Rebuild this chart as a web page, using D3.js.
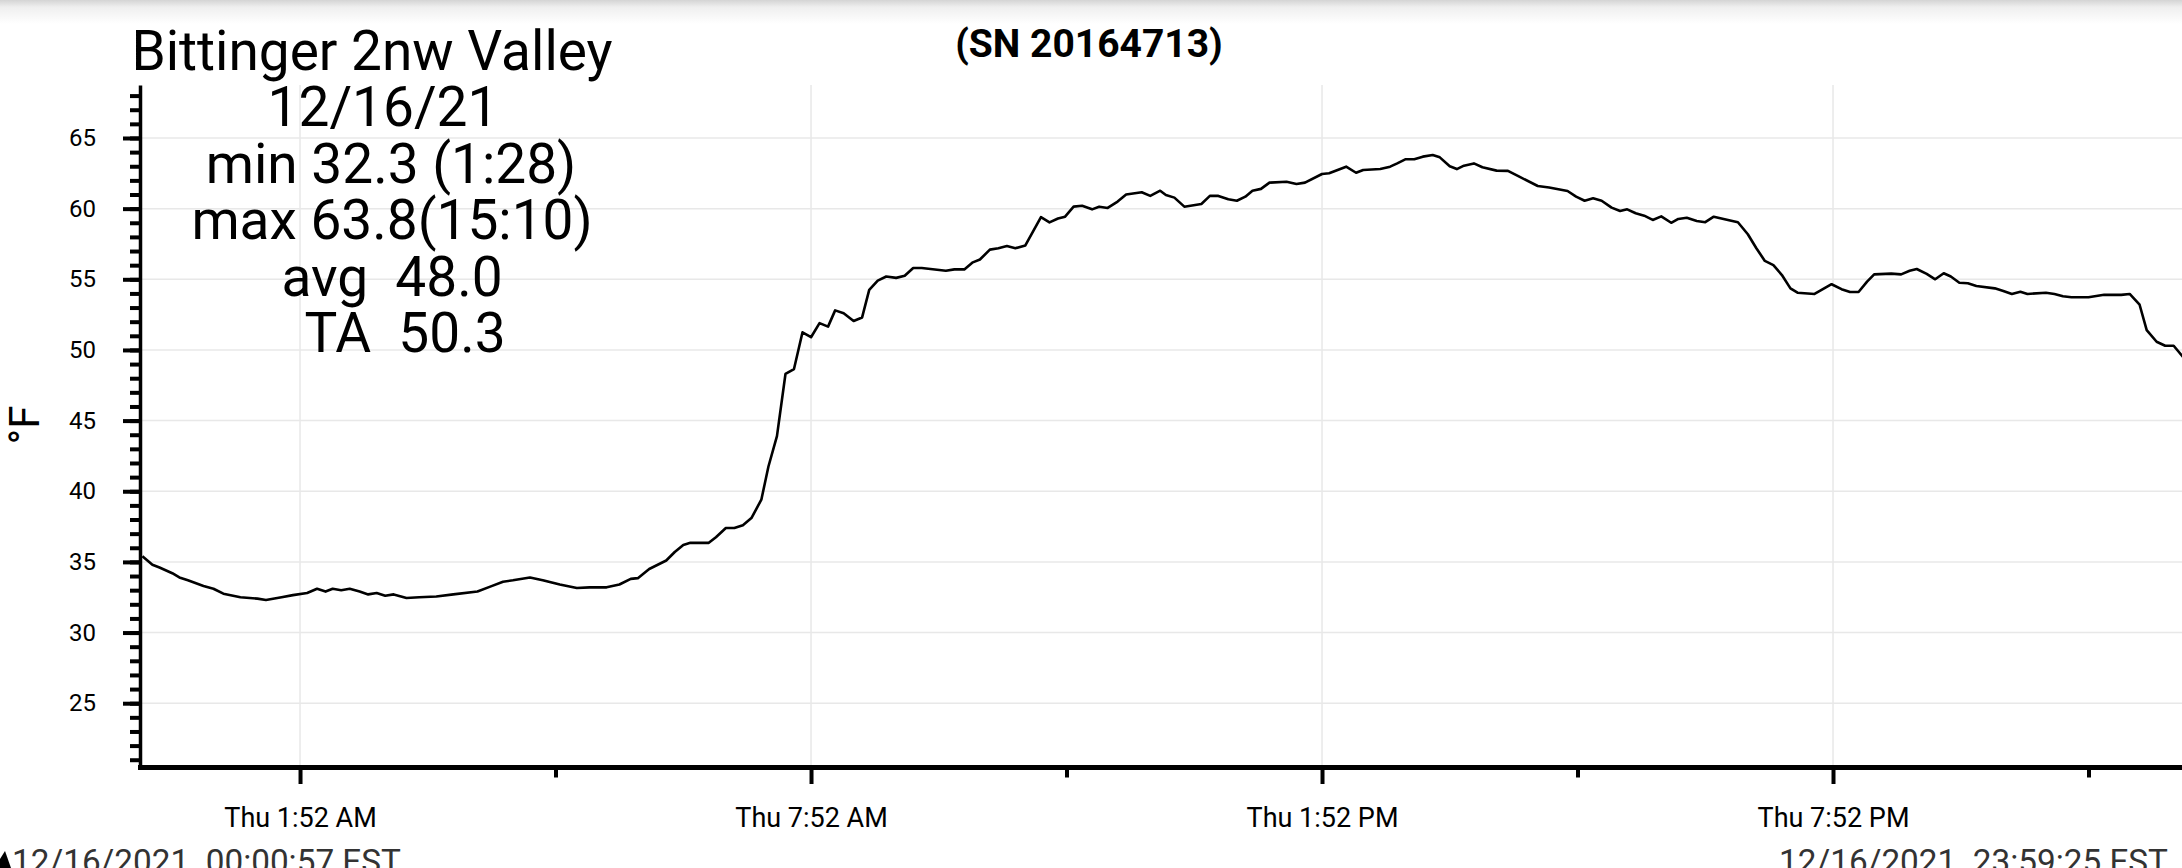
<!DOCTYPE html>
<html>
<head>
<meta charset="utf-8">
<script src="https://cdn.jsdelivr.net/npm/d3@7"></script>
<style>
  html, body { margin: 0; padding: 0; background: #fff; overflow: hidden; }
  svg { display: block; font-family: Roboto, "Noto Sans", sans-serif; }
</style>
</head>
<body>
<div id="chart"></div>
<script>
// chart size
var w = 2182;
var h = 868;

// minutes after midnight, 12/16/2021 (EST)
var minutes = [0.95, 8, 13, 22, 27, 33, 44, 51, 58, 70, 82, 88, 99, 107, 117, 124, 130, 135, 141, 147,
  154, 160, 166, 172, 178, 187, 196, 208, 220, 237, 246, 255, 262, 274, 283, 295, 307, 316, 328, 337,
  345, 350, 358, 370, 376, 382, 387, 400, 405, 412, 418, 424, 430, 437, 442, 448, 454, 460, 466, 472,
  478, 484, 489, 495, 502, 508, 513, 519, 525, 532, 538, 544, 550, 567, 573, 580, 586, 591, 598, 604,
  610, 616, 623, 634, 640, 646, 651, 657, 663, 670, 675, 681, 688, 694, 705, 711, 718, 722, 728, 735,
  747, 753, 759, 766, 772, 778, 783, 789, 795, 807, 814, 820, 832, 837, 849, 856, 861, 873, 880, 885,
  891, 897, 903, 910, 915, 922, 927, 932, 939, 945, 955, 963, 971, 984, 992, 1005, 1011, 1017, 1023, 1029,
  1036, 1042, 1047, 1053, 1059, 1065, 1071, 1078, 1083, 1089, 1096, 1102, 1108, 1118, 1125, 1132, 1138, 1144, 1150, 1156,
  1162, 1167, 1179, 1191, 1198, 1204, 1210, 1216, 1221, 1233, 1240, 1246, 1251, 1258, 1264, 1270, 1275, 1281, 1287, 1293,
  1306, 1312, 1318, 1324, 1329, 1342, 1348, 1354, 1360, 1372, 1383, 1395, 1401, 1408, 1413, 1420, 1426, 1432, 1439.42];

// temperature, °F
var temps = [35.4, 34.8, 34.6, 34.2, 33.9, 33.7, 33.3, 33.1, 32.75, 32.5, 32.4, 32.3, 32.5, 32.65, 32.8, 33.1, 32.9, 33.1, 33.0, 33.1,
  32.9, 32.7, 32.8, 32.6, 32.7, 32.45, 32.5, 32.55, 32.7, 32.9, 33.25, 33.6, 33.7, 33.9, 33.7, 33.4, 33.15, 33.2, 33.2, 33.4,
  33.8, 33.85, 34.5, 35.1, 35.7, 36.2, 36.35, 36.35, 36.75, 37.4, 37.4, 37.6, 38.1, 39.4, 41.75, 43.9, 48.3, 48.65, 51.25, 50.9,
  51.9, 51.65, 52.8, 52.6, 52.05, 52.3, 54.25, 54.9, 55.2, 55.1, 55.25, 55.8, 55.8, 55.6, 55.7, 55.7, 56.2, 56.4, 57.1, 57.2,
  57.35, 57.2, 57.4, 59.4, 59.03, 59.3, 59.43, 60.14, 60.2, 59.95, 60.14, 60.05, 60.5, 61.0, 61.16, 60.9, 61.27, 60.97, 60.78, 60.14,
  60.33, 60.9, 60.9, 60.66, 60.56, 60.85, 61.27, 61.4, 61.84, 61.9, 61.75, 61.84, 62.45, 62.5, 62.97, 62.54, 62.74, 62.8, 62.97, 63.2,
  63.5, 63.5, 63.68, 63.8, 63.63, 63.0, 62.8, 63.04, 63.2, 62.93, 62.69, 62.67, 62.26, 61.6, 61.5, 61.25, 60.85, 60.56, 60.73, 60.56,
  60.07, 59.83, 59.95, 59.67, 59.5, 59.2, 59.45, 59.0, 59.27, 59.36, 59.13, 59.04, 59.43, 59.2, 59.04, 58.19, 57.2, 56.3, 56.0, 55.3,
  54.36, 54.05, 53.96, 54.65, 54.3, 54.1, 54.1, 54.83, 55.35, 55.4, 55.35, 55.6, 55.73, 55.38, 55.0, 55.43, 55.2, 54.76, 54.72, 54.53,
  54.36, 54.17, 53.96, 54.12, 53.96, 54.05, 53.96, 53.8, 53.73, 53.73, 53.9, 53.9, 53.96, 53.2, 51.4, 50.58, 50.3, 50.3, 49.4];

// axis ticks
var majorTimes = ["01:52", "07:52", "13:52", "19:52"];
var minorTimes = ["04:52", "10:52", "16:52", "22:52"];
var majorTemps = [25, 30, 35, 40, 45, 50, 55, 60, 65];
var minorTemps = d3.range(21, 69); // every degree

// text
var infoLines = ["Bittinger 2nw Valley", "12/16/21", "min 32.3 (1:28)", "max 63.8(15:10)", "avg  48.0", "TA  50.3"];
var serial = "(SN 20164713)";
var startLabel = "12/16/2021  00:00:57 EST";
var endLabel = "12/16/2021  23:59:25 EST";
var yLabel = "°F";

var day = Date.UTC(2021, 11, 16);
function atMinute(m) { return new Date(day + m * 60000); }
function atClock(s) {
    var p = s.split(":");
    return atMinute(+p[0] * 60 + +p[1]);
}

var data = minutes.map(function(m, i) {
    return {t: atMinute(m), v: temps[i]};
});

var xScale = d3.scaleUtc()
    .domain([atMinute(0.95), atMinute(1439.42)])
    .range([142.4, 2184.2]);

var yScale = d3.scaleLinear()
    .domain([20.45, 68.75])
    .range([767.5, 85]);

var svg = d3.select("#chart")
    .append("svg")
    .attr("width", w)
    .attr("height", h);

// top shadow band
var grad = svg.append("defs").append("linearGradient")
    .attr("id", "topband")
    .attr("x1", 0).attr("y1", 0).attr("x2", 0).attr("y2", 1);
grad.append("stop").attr("offset", "0%").attr("stop-color", "#d4d4d4");
grad.append("stop").attr("offset", "30%").attr("stop-color", "#efefef");
grad.append("stop").attr("offset", "100%").attr("stop-color", "#ffffff");
svg.append("rect")
    .attr("x", 0).attr("y", 0)
    .attr("width", w).attr("height", 24)
    .attr("fill", "url(#topband)");

// grid
svg.append("g")
    .selectAll("line")
    .data(majorTemps)
    .enter()
    .append("line")
    .attr("x1", 140).attr("x2", w)
    .attr("y1", function(d) { return yScale(d); })
    .attr("y2", function(d) { return yScale(d); })
    .attr("stroke", "#e8e8e8")
    .attr("stroke-width", 1.5);

svg.append("g")
    .selectAll("line")
    .data(majorTimes)
    .enter()
    .append("line")
    .attr("x1", function(d) { return xScale(atClock(d)); })
    .attr("x2", function(d) { return xScale(atClock(d)); })
    .attr("y1", 85).attr("y2", 767)
    .attr("stroke", "#e8e8e8")
    .attr("stroke-width", 1.5);

// temperature line
var line = d3.line()
    .x(function(d) { return xScale(d.t); })
    .y(function(d) { return yScale(d.v); });

svg.append("path")
    .datum(data)
    .attr("d", line)
    .attr("fill", "none")
    .attr("stroke", "#000")
    .attr("stroke-width", 2.6)
    .attr("stroke-linejoin", "round");

// y axis, minor ticks then major ticks with labels
var yMinor = d3.axisLeft(yScale)
    .tickValues(minorTemps)
    .tickSize(10)
    .tickSizeOuter(0)
    .tickFormat("");

var yMajor = d3.axisLeft(yScale)
    .tickValues(majorTemps)
    .tickSize(17)
    .tickSizeOuter(0)
    .tickPadding(27);

var gyMinor = svg.append("g").attr("transform", "translate(140,0)").call(yMinor);
var gy = svg.append("g").attr("transform", "translate(140,0)").call(yMajor);
gyMinor.select(".domain").remove();
gy.select(".domain").attr("stroke-width", 3.5);
gyMinor.selectAll("line").attr("stroke-width", 4);
gy.selectAll("line").attr("stroke-width", 4);
gy.selectAll("text")
    .attr("font-family", "Roboto")
    .attr("font-size", 24)
    .attr("fill", "#000");

// x axis
var xMinor = d3.axisBottom(xScale)
    .tickValues(minorTimes.map(atClock))
    .tickSize(10)
    .tickSizeOuter(0)
    .tickFormat("");

var xMajor = d3.axisBottom(xScale)
    .tickValues(majorTimes.map(atClock))
    .tickSize(16.5)
    .tickSizeOuter(0)
    .tickPadding(24)
    .tickFormat(d3.utcFormat("%a %-I:%M %p"));

var gxMinor = svg.append("g").attr("transform", "translate(0,767.5)").call(xMinor);
var gx = svg.append("g").attr("transform", "translate(0,767.5)").call(xMajor);
gxMinor.select(".domain").remove();
gx.select(".domain").attr("d", "M138,0H" + w).attr("stroke-width", 5);
gxMinor.selectAll("line").attr("stroke-width", 4);
gx.selectAll("line").attr("stroke-width", 4);
gx.selectAll("text")
    .attr("font-family", "Roboto")
    .attr("font-size", 27)
    .attr("fill", "#000");

// y label
svg.append("text")
    .attr("transform", "translate(39,425) rotate(-90)")
    .attr("text-anchor", "middle")
    .attr("font-size", 42)
    .text(yLabel);

// serial number
svg.append("text")
    .attr("x", 1089)
    .attr("y", 57)
    .attr("text-anchor", "middle")
    .attr("font-size", 39)
    .attr("font-weight", "bold")
    .text(serial);

// station info block
var infoX = [372, 383, 391, 392, 392, 405];
svg.append("g")
    .selectAll("text")
    .data(infoLines)
    .enter()
    .append("text")
    .attr("x", function(d, i) { return infoX[i]; })
    .attr("y", function(d, i) { return 70 + i * 56.4; })
    .attr("text-anchor", "middle")
    .attr("font-size", 55)
    .attr("fill", "#000")
    .style("white-space", "pre")
    .text(function(d) { return d; });

// start / end stamps
svg.append("text")
    .attr("x", 12)
    .attr("y", 873)
    .attr("font-size", 33.3)
    .attr("fill", "#333")
    .style("white-space", "pre")
    .text(startLabel);

svg.append("text")
    .attr("x", 2168)
    .attr("y", 873)
    .attr("text-anchor", "end")
    .attr("font-size", 33.3)
    .attr("fill", "#333")
    .style("white-space", "pre")
    .text(endLabel);

svg.append("polygon")
    .attr("points", "0,868 11,868 5,851 0,859")
    .attr("fill", "#000");
</script>
</body>
</html>
